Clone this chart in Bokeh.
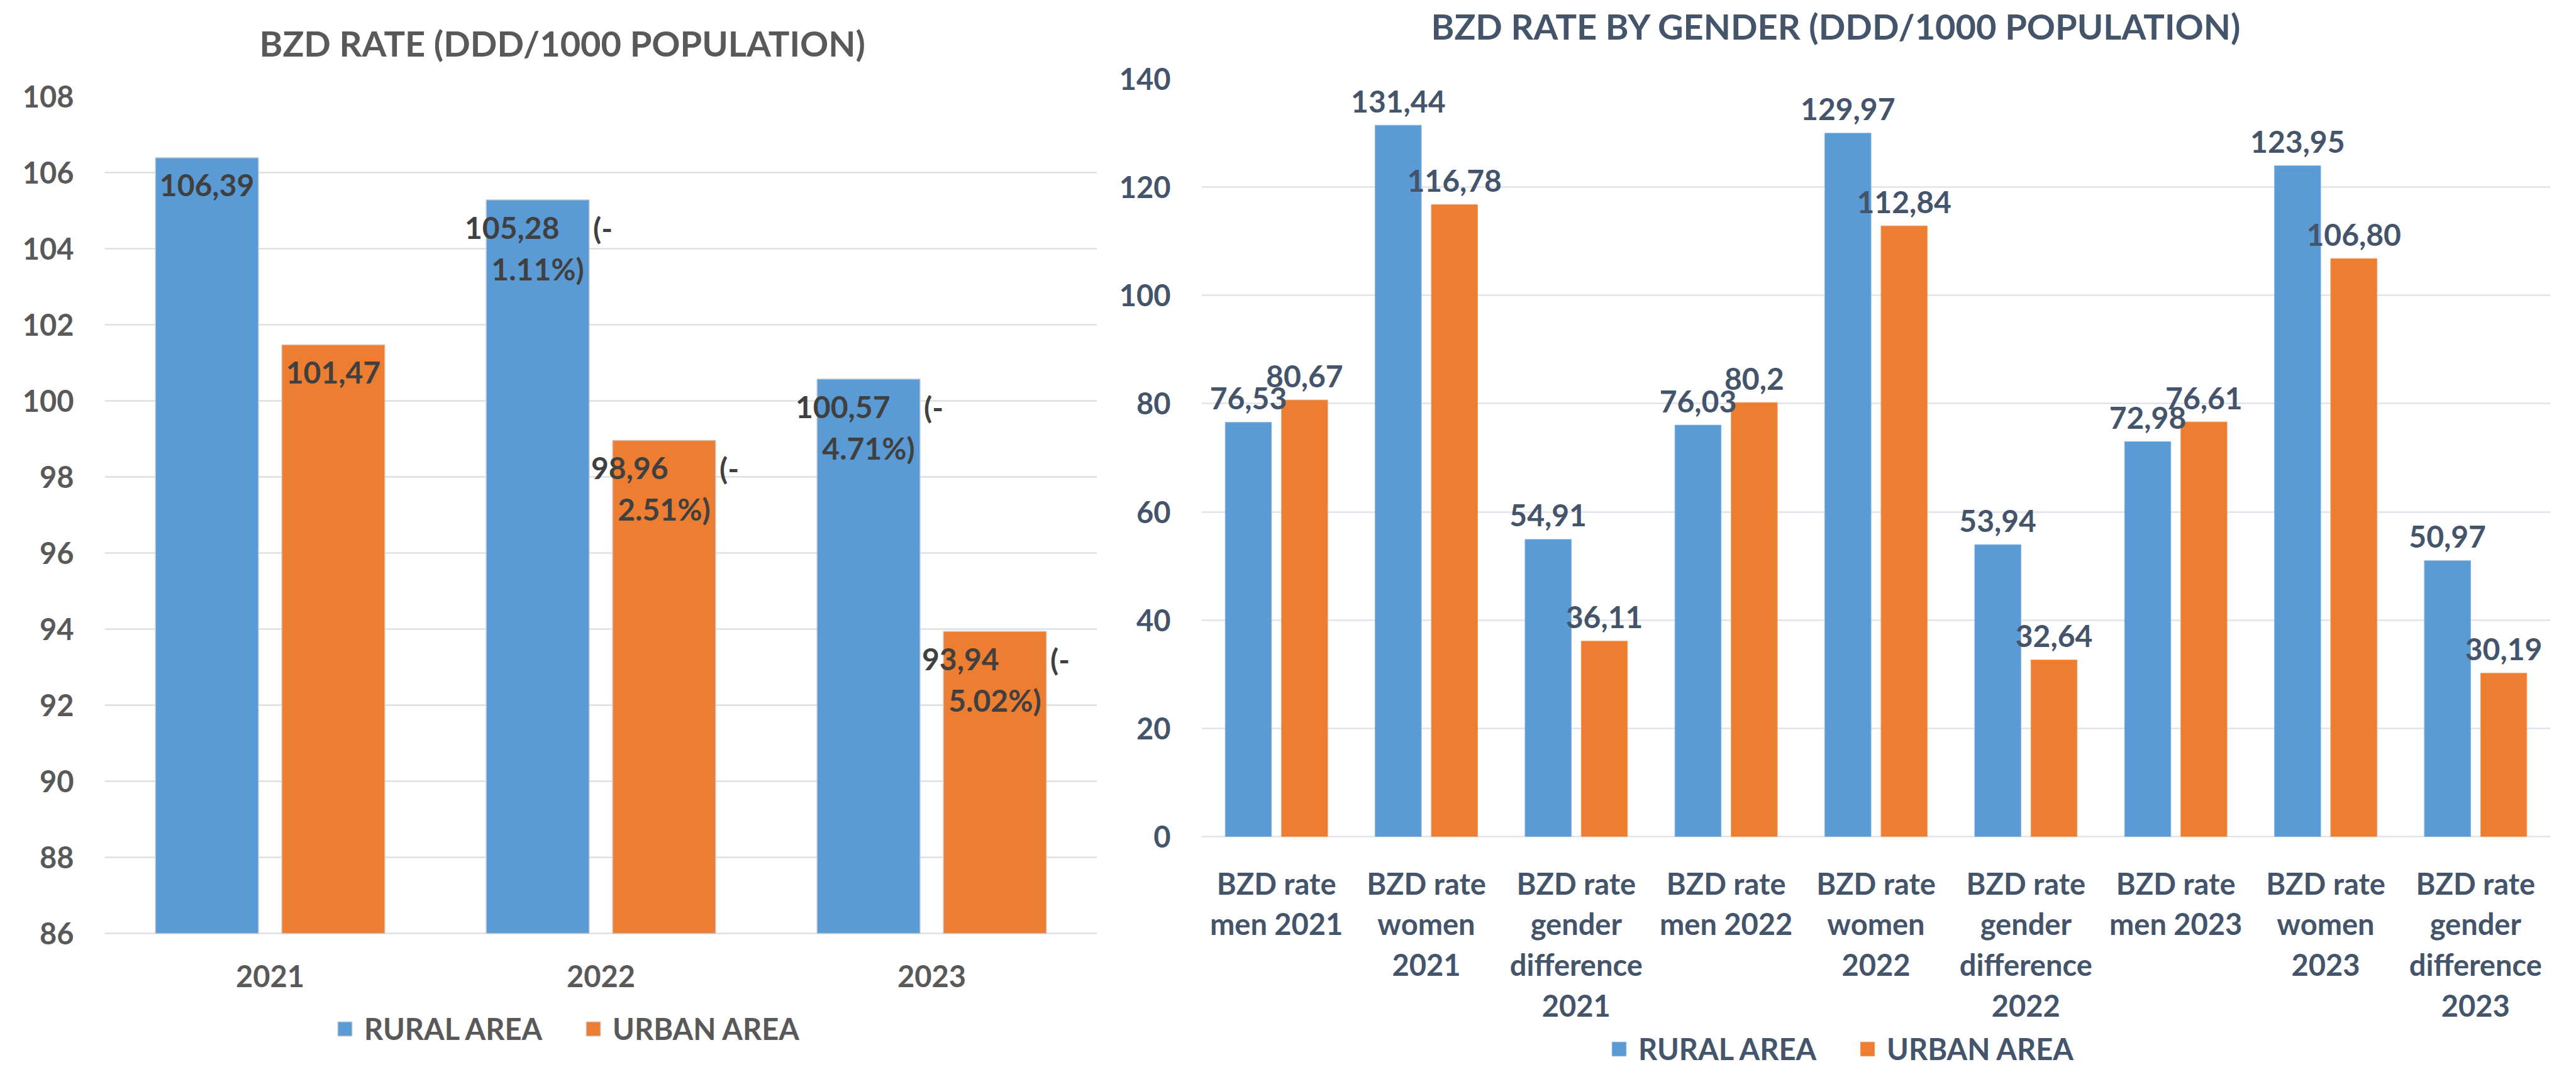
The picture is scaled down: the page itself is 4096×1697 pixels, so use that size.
from bokeh.plotting import figure
from bokeh.models import (Range1d, FixedTicker, ColumnDataSource, Legend, LegendItem, Title)
from bokeh.transform import dodge
from bokeh.core.properties import value
from bokeh.embed import file_html
from bokeh.resources import INLINE

# ---------------- data ----------------
years = ["2021", "2022", "2023"]
rural_rate = [106.39, 105.28, 100.57]
urban_rate = [101.47, 98.96, 93.94]
rural_rate_lbl = ["106,39", "105,28", "100,57"]
urban_rate_lbl = ["101,47", "98,96", "93,94"]
rural_change = [None, "-1.11%", "-4.71%"]
urban_change = [None, "-2.51%", "-5.02%"]
left_ticks = [86, 88, 90, 92, 94, 96, 98, 100, 102, 104, 106, 108]

gender_cats = [
    "BZD rate\nmen 2021", "BZD rate\nwomen\n2021", "BZD rate\ngender\ndifference\n2021",
    "BZD rate\nmen 2022", "BZD rate\nwomen\n2022", "BZD rate\ngender\ndifference\n2022",
    "BZD rate\nmen 2023", "BZD rate\nwomen\n2023", "BZD rate\ngender\ndifference\n2023",
]
rural_gender = [76.53, 131.44, 54.91, 76.03, 129.97, 53.94, 72.98, 123.95, 50.97]
urban_gender = [80.67, 116.78, 36.11, 80.2, 112.84, 32.64, 76.61, 106.80, 30.19]
rural_gender_lbl = ["76,53", "131,44", "54,91", "76,03", "129,97", "53,94", "72,98", "123,95", "50,97"]
urban_gender_lbl = ["80,67", "116,78", "36,11", "80,2", "112,84", "32,64", "76,61", "106,80", "30,19"]
right_ticks = [0, 20, 40, 60, 80, 100, 120, 140]

series_names = ["RURAL AREA", "URBAN AREA"]
BLUE = "#5B9BD5"
ORANGE = "#ED7D31"

S = 0.7265
def px(v):
    return int(round(v * S))

H = px(2335)
W1 = px(2420)
W2 = px(5635) - W1
FONT = "Lato"


def extended_range(lo, hi, top_px, base_px):
    """y-range whose `hi` sits at the frame top and `lo` at base_px (from figure top);
    the frame runs down to the figure bottom so that axis labels and legend fit inside."""
    per_px = (hi - lo) / (base_px - top_px)
    return Range1d(hi - per_px * (H - top_px), hi)


def style_common(p, title_text, text_color, grid_color, title_offset, spacer, base):
    p.outline_line_color = None
    p.background_fill_color = "white"
    p.border_fill_color = "white"
    p.xgrid.grid_line_color = None
    p.ygrid.grid_line_color = grid_color
    p.ygrid.grid_line_width = 2
    for ax in (p.xaxis[0], p.yaxis[0]):
        ax.axis_line_color = None
        ax.major_tick_line_color = None
        ax.minor_tick_line_color = None
        ax.major_tick_out = 0
        ax.major_tick_in = 0
        ax.major_label_text_font = FONT
        ax.major_label_text_font_style = "bold"
        ax.major_label_text_font_size = "47px"
        ax.major_label_text_color = text_color
    p.xaxis[0].fixed_location = base
    p.yaxis[0].major_label_standoff = 49
    p.title.text = title_text
    p.title.align = "left"
    p.title.offset = title_offset
    p.title.standoff = 0
    p.title.text_font = FONT
    p.title.text_font_style = "bold"
    p.title.text_font_size = "56px"
    p.title.text_color = text_color
    # empty spacer between the frame and the title
    p.add_layout(Title(text=" ", text_font_size="1px", standoff=spacer), "above")


def add_legend(p, r1, r2, loc, color):
    leg = Legend(items=[LegendItem(label=series_names[0], renderers=[r1]),
                        LegendItem(label=series_names[1], renderers=[r2])],
                 orientation="horizontal", location=loc)
    leg.glyph_width = 28
    leg.glyph_height = 28
    leg.label_height = 28
    leg.label_standoff = 17
    leg.spacing = 67
    leg.padding = 0
    leg.margin = 0
    leg.border_line_alpha = 0
    leg.background_fill_alpha = 0
    leg.label_text_font = FONT
    leg.label_text_font_style = "bold"
    leg.label_text_font_size = "47px"
    leg.label_text_color = color
    p.add_layout(leg)


# ---------------- left chart ----------------
LC = "#595959"
base1 = left_ticks[0]
p1 = figure(x_range=years,
            y_range=extended_range(left_ticks[0], left_ticks[-1], px(210), px(2043)),
            width=W1, height=H, output_backend="svg", toolbar_location=None,
            min_border_left=px(229), min_border_right=px(19),
            min_border_top=px(210), min_border_bottom=0)
style_common(p1, "BZD RATE (DDD/1000 POPULATION)", LC, "#D9D9D9", px(567 - 229), 49, base1)
p1.yaxis[0].ticker = FixedTicker(ticks=left_ticks)
p1.xaxis[0].major_label_standoff = 50

src1 = ColumnDataSource(dict(year=years, rural=rural_rate, urban=urban_rate,
                             rl=rural_rate_lbl, ul=urban_rate_lbl))
r1 = p1.vbar(x=dodge("year", -0.191, range=p1.x_range), top="rural", bottom=base1,
             width=0.311, source=src1, fill_color=BLUE, line_color="#B8C4D0", line_width=1.5)
r2 = p1.vbar(x=dodge("year", 0.191, range=p1.x_range), top="urban", bottom=base1,
             width=0.311, source=src1, fill_color=ORANGE, line_color="#D0C0B8", line_width=1.5)

label_kw = dict(text_font=value(FONT), text_font_style="bold", text_font_size="48px",
                text_color="#404040", text_baseline="middle")

for vals, lbls, chg, off in ((rural_rate, rural_rate_lbl, rural_change, -0.191),
                             (urban_rate, urban_rate_lbl, urban_change, 0.191)):
    single = dict(year=[], v=[], t=[])
    double = dict(year=[], v=[], t=[], p=[], l2=[])
    for y, v, t, c in zip(years, vals, lbls, chg):
        if c is None:
            single["year"].append(y); single["v"].append(v); single["t"].append(t)
        else:
            double["year"].append(y); double["v"].append(v); double["t"].append(t)
            double["p"].append("(" + c[0]); double["l2"].append(c[1:] + ")")
    s1 = ColumnDataSource(single)
    s2 = ColumnDataSource(double)
    xs = dodge("year", off, range=p1.x_range)
    p1.text(x=xs, y="v", text="t", source=s1, text_align="center", y_offset=44, **label_kw)
    p1.text(x=xs, y="v", text="t", source=s2, text_align="left", x_offset=-116, y_offset=44, **label_kw)
    p1.text(x=xs, y="v", text="p", source=s2, text_align="left", x_offset=88, y_offset=44, **label_kw)
    p1.text(x=xs, y="v", text="l2", source=s2, text_align="center", y_offset=109, **label_kw)

add_legend(p1, r1, r2, (px(735 - 229), 32), LC)

# ---------------- right chart ----------------
RC = "#44546A"
base2 = right_ticks[0]
p2 = figure(x_range=gender_cats,
            y_range=extended_range(right_ticks[0], right_ticks[-1], px(172), px(1831)),
            width=W2, height=H, output_backend="svg", toolbar_location=None,
            min_border_left=px(209), min_border_right=px(54),
            min_border_top=px(172), min_border_bottom=0)
style_common(p2, "BZD RATE BY GENDER (DDD/1000 POPULATION)", RC, "#D9DEE6", px(3132 - 2629), 48, base2)
p2.yaxis[0].ticker = FixedTicker(ticks=right_ticks)
p2.xaxis[0].major_label_standoff = 46
p2.xaxis[0].major_label_text_line_height = 1.16

src2 = ColumnDataSource(dict(cat=gender_cats, rural=rural_gender, urban=urban_gender,
                             rl=rural_gender_lbl, ul=urban_gender_lbl))
g1 = p2.vbar(x=dodge("cat", -0.1875, range=p2.x_range), top="rural", bottom=base2,
             width=0.308, source=src2, fill_color=BLUE, line_color="#7FB2E0", line_width=1)
g2 = p2.vbar(x=dodge("cat", 0.1875, range=p2.x_range), top="urban", bottom=base2,
             width=0.308, source=src2, fill_color=ORANGE, line_color="#F29A5E", line_width=1)

rlabel_kw = dict(text_font=value(FONT), text_font_style="bold", text_font_size="48px",
                 text_color=RC, text_baseline="middle", text_align="center", y_offset=-38)
p2.text(x=dodge("cat", -0.1875, range=p2.x_range), y="rural", text="rl", source=src2, **rlabel_kw)
p2.text(x=dodge("cat", 0.1875, range=p2.x_range), y="urban", text="ul", source=src2, **rlabel_kw)

add_legend(p2, g1, g2, (px(3524 - 2629), 0), RC)

# two independent roots placed side by side (no frame alignment between them)
html = file_html([p1, p2], INLINE)
html = html.replace(
    "</head>",
    "<style>html,body{margin:0;padding:0;}body{display:flex;flex-direction:row;"
    "align-items:flex-start;}</style></head>", 1)
open("out.html", "w").write(html)
